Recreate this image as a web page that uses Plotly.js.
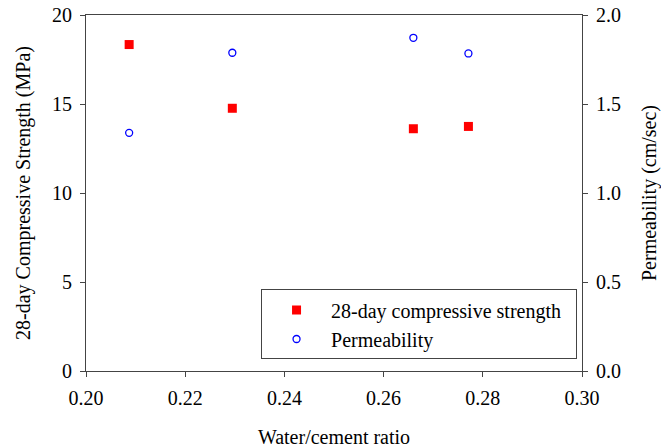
<!DOCTYPE html>
<html>
<head>
<meta charset="utf-8">
<script src="https://cdn.plot.ly/plotly-3.0.1.min.js"></script>
<style>html,body{margin:0;padding:0;background:#fff;}#chart{width:661px;height:448px;}</style>
</head>
<body>
<div id="chart"></div>
<script>
var wcRatio = [0.2087, 0.2295, 0.2660, 0.2771];
var strength = [18.34, 14.76, 13.61, 13.74];
var permeability = [1.338, 1.788, 1.872, 1.784];
var xTicks = [0.20, 0.22, 0.24, 0.26, 0.28, 0.30];
var yTicks = [0, 5, 10, 15, 20];
var y2Ticks = [0.0, 0.5, 1.0, 1.5, 2.0];

var font = {family: 'Liberation Serif', size: 20, color: '#000'};
var axisCommon = {
  showgrid: false, zeroline: false, showline: true, linecolor: '#444', linewidth: 1,
  ticks: 'outside', ticklen: 5, tickcolor: '#444', tickfont: font, ticklabelstandoff: 4
};

var traces = [
  {x: wcRatio, y: strength, name: '28-day compressive strength\u00a0\u00a0', type: 'scatter', mode: 'markers',
   marker: {symbol: 'square', size: 9, color: '#ff0000'}},
  {x: wcRatio, y: permeability, name: 'Permeability', type: 'scatter', mode: 'markers', yaxis: 'y2',
   marker: {symbol: 'circle-open', size: 7, color: '#0000ff', line: {width: 1.3, color: '#0000ff'}}}
];

var layout = {
  width: 661, height: 448,
  margin: {l: 86, r: 79, t: 15, b: 77},
  paper_bgcolor: '#fff', plot_bgcolor: '#fff',
  font: font,
  showlegend: true,
  legend: {x: 0.99, xanchor: 'right', y: 0.229, yanchor: 'top', bordercolor: '#444', borderwidth: 1,
           bgcolor: '#fff', font: font, itemwidth: 59, tracegroupgap: 0},
  xaxis: Object.assign({}, axisCommon, {range: [0.2, 0.3], tickvals: xTicks, tickformat: '.2f',
           mirror: true, title: {text: 'Water/cement ratio', font: font, standoff: 21}}),
  yaxis: Object.assign({}, axisCommon, {range: [0, 20], tickvals: yTicks,
           title: {text: '28-day Compressive Strength (MPa)', font: font, standoff: 16}}),
  yaxis2: Object.assign({}, axisCommon, {range: [0, 2], tickvals: y2Ticks, tickformat: '.1f',
           overlaying: 'y', side: 'right',
           title: {text: 'Permeability (cm/sec)', font: font, standoff: 22}})
};

Plotly.newPlot('chart', traces, layout, {displayModeBar: false, staticPlot: true});
</script>
</body>
</html>
